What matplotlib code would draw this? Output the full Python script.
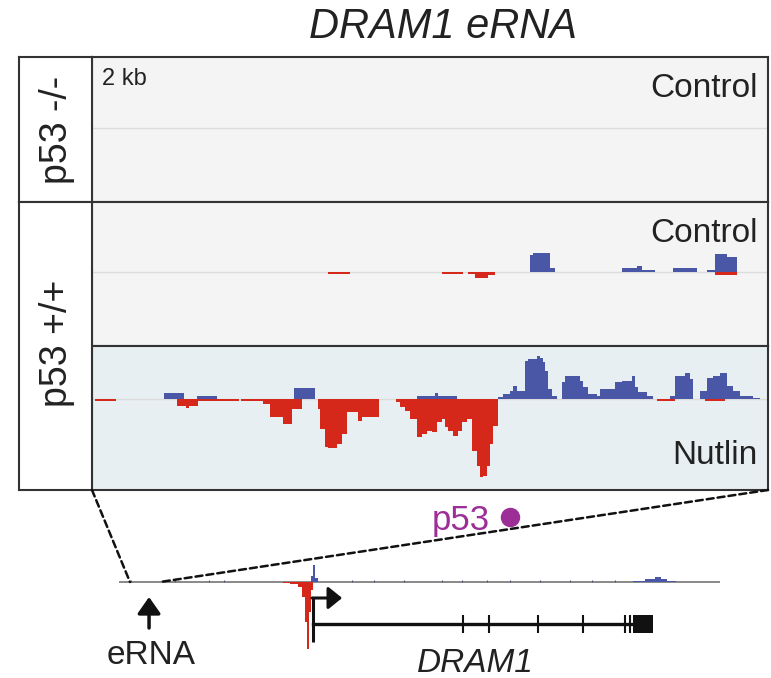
import matplotlib
matplotlib.use("Agg")
import matplotlib.pyplot as plt
from matplotlib.patches import ConnectionPatch, Rectangle

plt.rcParams['font.family'] = ['Liberation Sans', 'DejaVu Sans']

# GRO-seq style signal in the 2 kb window (bp), plus strand up / minus strand down
ctrl_plus_edges = [1296, 1305, 1355, 1370, 1568, 1612, 1627, 1666, 1719, 1790, 1820, 1843, 1879, 1908]
ctrl_plus_vals = [17, 19, 4, 0, 4, 6, 2, 0, 4, 0, 2, 18, 15]
ctrl_minus_edges = [698, 763, 1036, 1098, 1112, 1133, 1172, 1192, 1843, 1908]
ctrl_minus_vals = [1.5, 0, 1.5, 0, 2, 6, 3, 0, 3]

nut_plus_edges = [213, 272, 311, 370, 598, 660, 962, 1015, 1024, 1080, 1201, 1216, 1237, 1246,
                  1257, 1281, 1290, 1317, 1325, 1334, 1340, 1349, 1361, 1376, 1391, 1399, 1444,
                  1453, 1467, 1494, 1503, 1547, 1568, 1598, 1607, 1615, 1642, 1660, 1710, 1725,
                  1754, 1769, 1778, 1799, 1820, 1837, 1858, 1879, 1896, 1917, 1956, 1976]
nut_plus_vals = [6, 0, 3, 0, 11, 0, 3, 6, 3, 0, 2, 5, 8, 13, 8, 38, 40, 43, 41, 37, 28, 10, 3,
                 0, 17, 23, 18, 12, 5, 3, 10, 17, 18, 23, 12, 7, 3, 0, 3, 23, 26, 20, 0, 8, 21,
                 23, 26, 13, 8, 3, 1]
nut_minus_edges = [9, 71, 251, 278, 287, 314, 334, 435, 441, 506, 527, 565, 592, 621, 669, 675,
                   689, 698, 725, 740, 754, 787, 799, 849, 899, 911, 926, 941, 962, 976, 991,
                   1006, 1021, 1036, 1044, 1053, 1068, 1083, 1095, 1109, 1124, 1139, 1148, 1157,
                   1169, 1178, 1186, 1201, 1672, 1725, 1814, 1873]
nut_minus_vals = [1.5, 0, 7, 9, 7, 2, 1.5, 0, 2, 5, 18, 25, 10, 0, 10, 30, 48, 49, 45, 35, 13,
                  22, 18, 0, 3, 8, 12, 20, 38, 35, 32, 33, 23, 20, 28, 32, 37, 32, 23, 20, 52,
                  67, 78, 77, 67, 45, 27, 0, 1.5, 0, 1.5]

p53_site_bp = 1237

# overview track of the locus (kb)
locus_minus_edges = [10.9, 11.4, 11.9, 12.2, 12.4, 12.5, 12.65, 12.8, 12.9]
locus_minus_vals = [1, 2, 5, 15, 40, 67, 30, 8]
locus_plus_edges = [12.8, 12.9, 13.05, 13.25, 34.2, 35.0, 35.7, 36.1, 36.5, 37.1]
locus_plus_vals = [6, 17, 4, 0, 1, 3, 5, 3, 1]
locus_small_kb = [0.8, 3.7, 6.0, 7.0, 15.5, 17.0, 19.0, 21.5, 22.8, 24.5, 26.0, 28.0, 30.0,
                  31.5, 33.0]
window_kb = [0.73, 2.73]
locus_kb = [0, 40]
erna_kb = 2.0
tss_kb = 12.9
exon_kb = [22.9, 24.6, 27.9, 30.9, 33.7, 34.0]
last_exon_kb = [34.2, 35.55]

blue = '#4a56a6'
red = '#d5281b'
purple = '#9d2e98'
W, H = 771, 678

fig = plt.figure(figsize=(W / 100, H / 100), dpi=100)


def box(x0, y0, x1, y1):
    return [x0 / W, 1 - y1 / H, (x1 - x0) / W, (y1 - y0) / H]


ax1 = fig.add_axes(box(92, 57, 768, 202))
ax2 = fig.add_axes(box(92, 202, 768, 346))
ax3 = fig.add_axes(box(92, 346, 768, 490))
lab1 = fig.add_axes(box(19, 57, 92, 202))
lab2 = fig.add_axes(box(19, 202, 92, 490))

for ax, bg in [(ax1, '#f4f4f4'), (ax2, '#f4f4f4'), (ax3, '#e8eff2')]:
    ax.set_facecolor(bg)
    ax.set_xlim(0, 2000)
    ax.axhline(0, color='#dcdcdc', lw=1, zorder=1)
ax1.set_ylim(-74, 71)
ax2.set_ylim(-74, 70)
ax3.set_ylim(-91, 53)

ax2.stairs(ctrl_plus_vals, ctrl_plus_edges, fill=True, color=blue, lw=0, zorder=2)
ax2.stairs([-v for v in ctrl_minus_vals], ctrl_minus_edges, fill=True, color=red, lw=0, zorder=3)
ax3.stairs(nut_plus_vals, nut_plus_edges, fill=True, color=blue, lw=0, zorder=2)
ax3.stairs([-v for v in nut_minus_vals], nut_minus_edges, fill=True, color=red, lw=0, zorder=3)

for ax in (ax1, ax2, ax3, lab1, lab2):
    ax.set_xticks([])
    ax.set_yticks([])
    for s in ax.spines.values():
        s.set_linewidth(1.5)
        s.set_color('#333333')

ax1.text(0.015, 0.925, '2 kb', transform=ax1.transAxes, fontsize=17, va='top', color='#222222')
ax1.text(0.985, 0.78, 'Control', transform=ax1.transAxes, fontsize=24, ha='right', va='center',
         color='#222222')
ax2.text(0.985, 0.78, 'Control', transform=ax2.transAxes, fontsize=24, ha='right', va='center',
         color='#222222')
ax3.text(0.985, 0.24, 'Nutlin', transform=ax3.transAxes, fontsize=24, ha='right', va='center',
         color='#222222')
lab1.text(0.52, 0.5, 'p53 -/-', rotation=90, fontsize=27, ha='center', va='center',
          transform=lab1.transAxes, color='#222222')
lab2.text(0.52, 0.51, 'p53 +/+', rotation=90, fontsize=27, ha='center', va='center',
          transform=lab2.transAxes, color='#222222')

fig.text(443 / W, 1 - 27 / H, 'DRAM1 eRNA', fontsize=30, style='italic', ha='center',
         va='center', color='#222222')

# p53 binding site
ax3.plot([p53_site_bp], [-118], 'o', ms=13, color=purple, clip_on=False)
ax3.text(p53_site_bp - 60, -118, 'p53', fontsize=25, color=purple, ha='right',
         va='center_baseline', clip_on=False)

# locus overview with gene model
axb = fig.add_axes(box(119, 560, 720, 678))
axb.set_xlim(*locus_kb)
axb.set_ylim(-96, 22)
axb.axis('off')
axb.plot(locus_kb, [0, 0], color='#808080', lw=1.3, zorder=1)
axb.stairs([-v for v in locus_minus_vals], locus_minus_edges, fill=True, color=red, lw=0)
axb.stairs(locus_plus_vals, locus_plus_edges, fill=True, color=blue, lw=0)
axb.vlines(locus_small_kb, 0, 1.8, color='#555577', lw=0.8)

axb.annotate('', xy=(erna_kb, -15), xytext=(erna_kb, -46),
             arrowprops=dict(arrowstyle='-|>,head_length=0.5,head_width=0.35', lw=2.5,
                             color='#111111', mutation_scale=20, shrinkA=0, shrinkB=0))
axb.text(erna_kb + 0.13, -74, 'eRNA', fontsize=24, ha='center', va='center', color='#222222')

axb.plot([tss_kb, tss_kb], [-60, -16], color='#111111', lw=2.2, solid_capstyle='butt')
axb.annotate('', xy=(tss_kb + 1.95, -16), xytext=(tss_kb - 0.05, -16),
             arrowprops=dict(arrowstyle='-|>,head_length=0.42,head_width=0.34', lw=2.2,
                             color='#111111', mutation_scale=20, shrinkA=0, shrinkB=0))
axb.plot([tss_kb, last_exon_kb[0]], [-42, -42], color='#111111', lw=2.4)
axb.vlines(exon_kb, -51, -33, color='#111111', lw=1.5)
axb.add_patch(Rectangle((last_exon_kb[0], -51), last_exon_kb[1] - last_exon_kb[0], 18,
                        color='#111111', lw=0))
axb.text(sum(exon_kb[:2]) / 2, -81, 'DRAM1', fontsize=24, style='italic', ha='center',
         va='center', color='#222222')

# dashed zoom lines from the 2 kb panels down to the locus track
for xa, xb in [(0, window_kb[0]), (2000, window_kb[1])]:
    con = ConnectionPatch(xyA=(xa, -91), coordsA='data', axesA=ax3,
                          xyB=(xb, 0), coordsB='data', axesB=axb,
                          color='#111111', lw=1.8, linestyle=(0, (2.8, 1.6)))
    fig.add_artist(con)

fig.savefig('out.png', dpi=100)
